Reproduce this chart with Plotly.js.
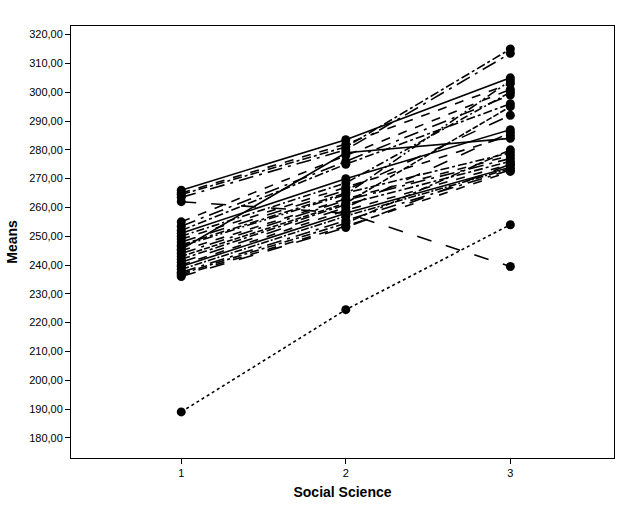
<!DOCTYPE html>
<html><head><meta charset="utf-8">
<script src="https://cdn.plot.ly/plotly-3.0.1.min.js"></script>
<style>body{margin:0;background:#fff}#c{width:625px;height:505px}</style>
</head><body><div id="c"></div>
<script>
var xCats = [1, 2, 3];
var yTicks = [180,190,200,210,220,230,240,250,260,270,280,290,300,310,320];
var s01 = [266, 283.5, 305];
var s02 = [265, 282, 303];
var s03 = [264.5, 281, 315];
var s04 = [263.5, 280, 313.5];
var s05 = [262, 258, 239.5];
var s06 = [255, 278, 301];
var s07 = [253.5, 276, 299];
var s08 = [252, 275, 296];
var s09 = [251, 270, 287];
var s10 = [250, 268.5, 300];
var s11 = [249, 267, 285];
var s12 = [248, 266, 292];
var s13 = [247, 265, 279];
var s14 = [246.5, 264.5, 304];
var s15 = [245.5, 279, 284];
var s16 = [245, 263, 278];
var s17 = [244, 262.5, 277];
var s18 = [243, 261.5, 295];
var s19 = [242, 261, 276];
var s20 = [241, 260, 286];
var s21 = [240, 259, 275];
var s22 = [239.5, 258, 274];
var s23 = [238.5, 257, 273.5];
var s24 = [237.5, 255.5, 273];
var s25 = [237, 254.5, 280];
var s26 = [236.5, 253.5, 272.5];
var s27 = [236, 253, 275];
var s28 = [189, 224.5, 254];
var seriesList = [s01,s02,s03,s04,s05,s06,s07,s08,s09,s10,s11,s12,s13,s14,s15,s16,s17,s18,s19,s20,s21,s22,s23,s24,s25,s26,s27,s28];
var dashes = ['solid','dash','dashdot','longdashdot','longdash','dash','longdashdot','dashdot','solid','8px,3px,2px,3px','dash','longdash',
  'dashdot','10px,3px,2px,3px,2px,3px','solid','dash','longdashdot','6px,2px','dashdot','longdash','dash','solid','8px,2px,2px,2px',
  'longdashdot','dashdot','dash','longdash','dot'];
var traces = seriesList.map(function(s, i){
  return {x: xCats, y: s, type: 'scatter', mode: 'lines+markers',
    line: {color: '#000', width: 1.6, dash: dashes[i % dashes.length]},
    marker: {color: '#000', size: 9}, showlegend: false, hoverinfo: 'skip'};
});
var fnt = {family: 'Liberation Sans, Arial, sans-serif', color: '#000'};
var layout = {
  width: 625, height: 505,
  margin: {l: 71, r: 11, t: 26, b: 47},
  paper_bgcolor: '#fff', plot_bgcolor: '#fff',
  separators: ',.',
  showlegend: false,
  xaxis: {range: [0.33, 3.63], tickvals: xCats, ticks: 'outside', ticklen: 5, tickcolor: '#000',
    showgrid: false, zeroline: false, showline: true, linecolor: '#000', linewidth: 1, mirror: true,
    tickfont: {family: fnt.family, size: 11, color: '#000'},
    title: {text: '<b>Social Science</b>', font: {family: fnt.family, size: 14, color: '#000'}, standoff: 8}},
  yaxis: {range: [173, 323], tickvals: yTicks, tickformat: '.2f', ticks: 'outside', ticklen: 5, tickcolor: '#000',
    showgrid: false, zeroline: false, showline: true, linecolor: '#000', linewidth: 1, mirror: true,
    tickfont: {family: fnt.family, size: 11, color: '#000'},
    title: {text: '<b>Means</b>', font: {family: fnt.family, size: 14, color: '#000'}, standoff: 8}}
};
Plotly.newPlot('c', traces, layout, {staticPlot: true, displayModeBar: false});
</script></body></html>
